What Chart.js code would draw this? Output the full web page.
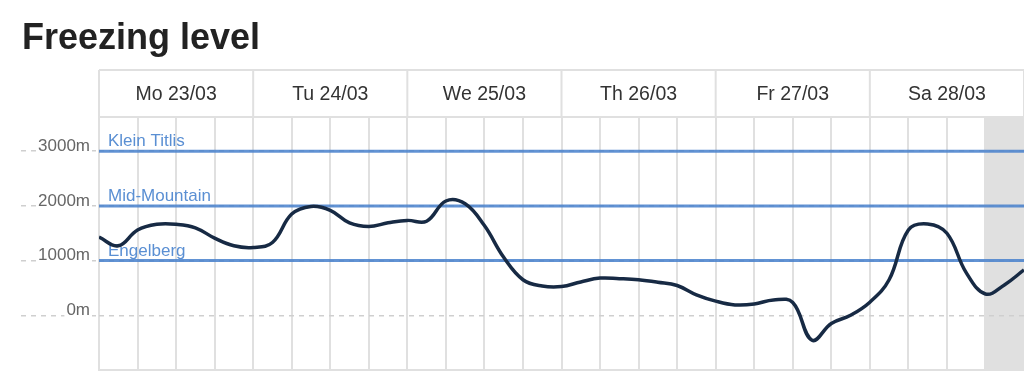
<!DOCTYPE html>
<html><head><meta charset="utf-8">
<script src="https://cdn.jsdelivr.net/npm/chart.js@4.4.0/dist/chart.umd.min.js"></script>
<style>
html,body{margin:0;padding:0;background:#fff;}
#wrap{position:relative;width:1024px;height:376px;overflow:hidden;}
#title{position:absolute;left:22px;top:19px;font:bold 36px/36px "Liberation Sans",Arial,sans-serif;color:#222;margin:0;}
canvas{position:absolute;left:0;top:0;}
</style></head><body>
<div id="wrap"><canvas id="c" width="1024" height="376"></canvas><h1 id="title">Freezing level</h1></div>
<script>
// ---- data ----
const dayLabels = ['Mo 23/03','Tu 24/03','We 25/03','Th 26/03','Fr 27/03','Sa 28/03'];
const dayStartHours = [0,24,48,72,96,120,144];
const gridHours = [0,6,12,18,24,30,36,42,48,54,60,66,72,78,84,90,96,102,108,114,120,126,132,138,144];
const hours = [0,3,6,9,12,15,18,21,24,27,30,33,36,39,42,45,48,51,54,57,60,63,66,69,72,75,78,81,84,87,90,93,96,99,102,105,108,111,114,117,120,123,126,129,132,135,138,141,144];
const freezingLevel = [1430,1270,1560,1665,1665,1600,1410,1270,1240,1330,1850,1990,1920,1690,1625,1690,1735,1720,2090,2040,1640,1060,650,535,525,610,680,670,650,605,545,375,260,190,205,280,235,-455,-150,0,240,650,1560,1670,1500,780,390,560,830];
const stationNames = ['Klein Titlis','Mid-Mountain','Engelberg'];
const stationElevations = [3000,2000,1000];
const yTickValues = [0,1000,2000,3000];
const shadedHours = [138,144];

const FONT = '"Liberation Sans", Arial, sans-serif';

const shadePlugin = {
  id:'shade',
  beforeDraw(chart){
    const {ctx, chartArea:a, scales:{x}} = chart;
    const x0 = x.getPixelForValue(shadedHours[0]), x1 = x.getPixelForValue(shadedHours[1]);
    ctx.save(); ctx.fillStyle = '#e0e0e0';
    ctx.fillRect(x0, a.top, x1 - x0, a.bottom - a.top);
    ctx.restore();
  }
};

const headerPlugin = {
  id:'header',
  afterDraw(chart){
    const {ctx, chartArea:a, scales:{x}} = chart;
    const top = 70;
    ctx.save();
    ctx.strokeStyle = '#e0e0e0'; ctx.lineWidth = 2;
    ctx.beginPath();
    ctx.moveTo(a.left, top); ctx.lineTo(a.right, top);
    ctx.moveTo(a.left, a.top); ctx.lineTo(a.right, a.top);
    dayStartHours.forEach(h => { const px = x.getPixelForValue(h); ctx.moveTo(px, top); ctx.lineTo(px, a.top); });
    ctx.stroke();
    ctx.fillStyle = '#333'; ctx.font = '19.5px ' + FONT; ctx.textAlign = 'center'; ctx.textBaseline = 'alphabetic';
    dayLabels.forEach((d, i) => {
      const c = (x.getPixelForValue(dayStartHours[i]) + x.getPixelForValue(dayStartHours[i+1])) / 2;
      ctx.fillText(d, c, 99.5);
    });
    ctx.restore();
  }
};

const stationLabelPlugin = {
  id:'stationLabels',
  beforeDatasetsDraw(chart){
    const {ctx, chartArea:a, scales:{y}} = chart;
    ctx.save();
    ctx.fillStyle = '#5a8fd3'; ctx.font = '17px ' + FONT; ctx.textAlign = 'left'; ctx.textBaseline = 'alphabetic';
    stationNames.forEach((n, i) => ctx.fillText(n, a.left + 9, y.getPixelForValue(stationElevations[i]) - 5));
    ctx.restore();
  }
};

const datasets = [{
  data: hours.map((h, i) => ({x: h, y: freezingLevel[i]})),
  borderColor: '#172a44', borderWidth: 3.5, pointRadius: 0, tension: 0.4, fill: false
}];
stationElevations.forEach(e => datasets.push({
  data: [{x: dayStartHours[0], y: e}, {x: dayStartHours[dayStartHours.length-1], y: e}],
  borderColor: 'rgba(70,128,204,0.85)', borderWidth: 3, pointRadius: 0, tension: 0
}));

new Chart(document.getElementById('c'), {
  type: 'line',
  data: { datasets },
  plugins: [shadePlugin, headerPlugin, stationLabelPlugin],
  options: {
    responsive: false, animation: false,
    layout: { padding: { top: 117, left: 0, right: 0, bottom: 6 } },
    plugins: { legend: { display: false }, tooltip: { enabled: false }, title: { display: false } },
    scales: {
      x: {
        type: 'linear', min: 0, max: 144,
        afterBuildTicks: s => { s.ticks = gridHours.map(v => ({value: v})); },
        ticks: { display: false },
        grid: { color: '#e0e0e0', lineWidth: 2, drawTicks: false },
        border: { display: true, color: '#e0e0e0', width: 2 }
      },
      y: {
        type: 'linear', min: -1000, max: 3625,
        afterBuildTicks: s => { s.ticks = yTickValues.map(v => ({value: v})); },
        afterFit: s => { s.width = 99; },
        ticks: {
          padding: -69, labelOffset: -5, color: '#666', font: { family: FONT, size: 17 },
          callback: v => v + 'm',
          showLabelBackdrop: true, backdropColor: '#fff', backdropPadding: { top: 0, bottom: 0, left: 2, right: 2 }
        },
        grid: { color: '#cfcfcf', lineWidth: 1.5, drawTicks: true, tickLength: 78, tickColor: '#cfcfcf', tickWidth: 1.5, tickBorderDash: [5,5] },
        border: { display: false, dash: [5,5] }
      }
    }
  }
});
</script>
</body></html>
